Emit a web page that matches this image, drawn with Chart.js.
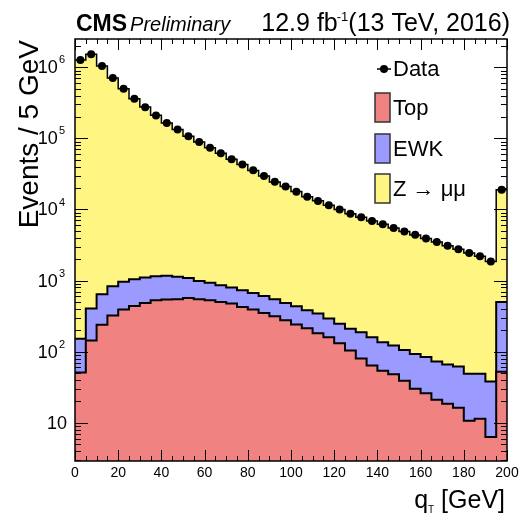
<!DOCTYPE html>
<html>
<head>
<meta charset="utf-8">
<script src="https://cdn.jsdelivr.net/npm/chart.js@4.4.1/dist/chart.umd.min.js"></script>
<style>
  html, body { margin: 0; padding: 0; background: #fff; }
  #wrap { width: 522px; height: 516px; }
</style>
</head>
<body>
<div id="wrap"><canvas id="chart"></canvas></div>
<script>
// q_T bins, 5 GeV wide, 0..200 GeV (left edges)
const binEdges = [0, 5, 10, 15, 20, 25, 30, 35, 40, 45, 50, 55, 60, 65, 70, 75, 80, 85, 90, 95,
                  100, 105, 110, 115, 120, 125, 130, 135, 140, 145, 150, 155, 160, 165, 170, 175, 180, 185, 190, 195];

// events per bin
const dataEvents = [1270000, 1520000, 1040000, 706000, 500000, 360000, 275000, 210000, 165000, 133000,
                    107000, 89000, 74000, 62000, 51000, 43000, 35500, 29500, 24500, 21000,
                    17800, 15100, 13200, 11500, 10000, 8700, 7800, 6900, 6200, 5500,
                    4900, 4400, 3900, 3500, 3100, 2750, 2450, 2200, 1850, 19000];

const topEvents = [51, 144, 240, 324, 391, 440, 484, 528, 541, 546,
                   570, 546, 528, 500, 475, 426, 391, 350, 314, 276,
                   242, 213, 181, 159, 131, 104, 80, 64, 54, 48,
                   39, 30, 26, 21, 18.5, 16.3, 10.7, 11.4, 6.3, 52];

const ewkEvents = [101, 260, 403, 510, 569, 607, 623, 626, 624, 582,
                   521, 444, 401, 361, 325, 306, 279, 258, 232, 208,
                   193, 169, 162, 135, 117, 107, 107, 95, 82, 74,
                   67, 63, 58, 52, 47.5, 45.7, 38.3, 37.6, 31.7, 448];

const zmumuEvents = [1270000, 1520000, 1040000, 706000, 500000, 360000, 275000, 210000, 164000, 132000,
                     106000, 88000, 73000, 61000, 50000, 42300, 34800, 28900, 23900, 20500,
                     17400, 14700, 12900, 11200, 9750, 8500, 7600, 6750, 6050, 5380,
                     4800, 4300, 3820, 3430, 3030, 2690, 2400, 2150, 1810, 18500];

const xTicks = [0, 20, 40, 60, 80, 100, 120, 140, 160, 180, 200];
const yDecades = [1, 2, 3, 4, 5, 6];

const BIN_W = 5;
const FONT = '"Liberation Sans", Arial, Helvetica, sans-serif';

// cumulative stack, drawn as step histograms
function stepPoints(values) {
    const pts = binEdges.map((x, i) => ({ x: x, y: values[i] }));
    pts.push({ x: binEdges[binEdges.length - 1] + BIN_W, y: values[values.length - 1] });
    return pts;
}
const stackTop = topEvents.slice();
const stackEwk = topEvents.map((v, i) => v + ewkEvents[i]);
const stackZ = stackEwk.map((v, i) => v + zmumuEvents[i]);

const colTop = '#F08282';
const colEwk = '#9B9BFF';
const colZ = '#FFF582';

// frame, ticks, labels, legend, titles
const decorations = {
    id: 'decorations',
    afterDraw(chart) {
        const ctx = chart.ctx;
        const a = chart.chartArea;
        const xs = chart.scales.x, ys = chart.scales.y;
        ctx.save();
        ctx.strokeStyle = '#000';
        ctx.fillStyle = '#000';

        // ticks
        ctx.lineWidth = 1;
        ctx.beginPath();
        for (let v = 0; v <= 200; v += 5) {
            const px = Math.round(xs.getPixelForValue(v)) + 0.5;
            const len = v % 20 === 0 ? 11 : 5;
            ctx.moveTo(px, a.bottom); ctx.lineTo(px, a.bottom - len);
            ctx.moveTo(px, a.top); ctx.lineTo(px, a.top + len);
        }
        for (let d = 0; d <= 6; d++) {
            for (let m = 1; m <= 9; m++) {
                const v = m * Math.pow(10, d);
                if (v < ys.min || v > ys.max) continue;
                const py = Math.round(ys.getPixelForValue(v)) + 0.5;
                const len = m === 1 ? 13 : 6;
                ctx.moveTo(a.left, py); ctx.lineTo(a.left + len, py);
                ctx.moveTo(a.right, py); ctx.lineTo(a.right - len, py);
            }
        }
        ctx.stroke();

        // frame
        ctx.lineWidth = 1.5;
        ctx.strokeRect(a.left, a.top, a.right - a.left, a.bottom - a.top);

        // x tick labels
        ctx.font = '14px ' + FONT;
        ctx.textAlign = 'center';
        ctx.textBaseline = 'top';
        xTicks.forEach(v => ctx.fillText(String(v), xs.getPixelForValue(v), a.bottom + 5));

        // y tick labels
        ctx.textBaseline = 'middle';
        yDecades.forEach(d => {
            const py = ys.getPixelForValue(Math.pow(10, d));
            if (d === 1) {
                ctx.font = '18px ' + FONT;
                ctx.textAlign = 'right';
                ctx.fillText('10', a.left - 8, py + 1);
            } else {
                ctx.font = '11px ' + FONT;
                ctx.textAlign = 'right';
                ctx.fillText(String(d), a.left - 10, py - 7);
                const ew = ctx.measureText(String(d)).width;
                ctx.font = '18px ' + FONT;
                ctx.fillText('10', a.left - 11 - ew, py + 1);
            }
        });

        // x axis title: q_T [GeV]
        ctx.textBaseline = 'alphabetic';
        ctx.textAlign = 'right';
        ctx.font = '25px ' + FONT;
        ctx.fillText('[GeV]', a.right - 2, 508);
        const gw = ctx.measureText(' [GeV]').width;
        ctx.font = '10px ' + FONT;
        ctx.fillText('T', a.right - 2 - gw, 513);
        const tw = ctx.measureText('T').width;
        ctx.font = '25px ' + FONT;
        ctx.fillText('q', a.right - 2 - gw - tw, 508);

        // y axis title
        ctx.save();
        ctx.translate(38, a.top + 1);
        ctx.rotate(-Math.PI / 2);
        ctx.textAlign = 'right';
        ctx.font = '28px ' + FONT;
        ctx.fillText('Events / 5 GeV', 0, 0);
        ctx.restore();

        // header
        ctx.textAlign = 'left';
        ctx.font = 'bold 23px ' + FONT;
        ctx.fillText('CMS', 76, 31);
        const cw = ctx.measureText('CMS').width;
        ctx.font = 'italic 20px ' + FONT;
        ctx.fillText('Preliminary', 76 + cw + 3, 31);
        ctx.textAlign = 'right';
        ctx.font = '25px ' + FONT;
        ctx.fillText('(13 TeV, 2016)', 510, 31);
        const rw = ctx.measureText('(13 TeV, 2016)').width;
        ctx.font = '13px ' + FONT;
        ctx.fillText('-1', 510 - rw, 21);
        const sw = ctx.measureText('-1').width;
        ctx.font = '25px ' + FONT;
        ctx.fillText('12.9 fb', 510 - rw - sw + 1, 31);

        // legend
        ctx.textAlign = 'left';
        ctx.textBaseline = 'middle';
        ctx.font = '22px ' + FONT;
        ctx.lineWidth = 1.5;
        ctx.beginPath();
        ctx.moveTo(377, 69); ctx.lineTo(391, 69);
        ctx.stroke();
        ctx.beginPath();
        ctx.arc(384, 69, 4, 0, Math.PI * 2);
        ctx.fill();
        ctx.fillText('Data', 393, 70);
        const boxes = [[colTop, 'Top', 93], [colEwk, 'EWK', 134], [colZ, 'Z \u2192 \u03bc\u03bc', 174]];
        boxes.forEach(([c, t, y]) => {
            ctx.fillStyle = c;
            ctx.fillRect(375, y, 15, 29);
            ctx.strokeStyle = '#333';
            ctx.strokeRect(375, y, 15, 29);
            ctx.fillStyle = '#000';
            ctx.fillText(t, 393, y + 16);
        });

        ctx.restore();
    }
};

new Chart(document.getElementById('chart'), {
    type: 'line',
    data: {
        datasets: [
            {
                label: 'Data',
                data: binEdges.map((x, i) => ({ x: x + BIN_W / 2, y: dataEvents[i] })),
                showLine: false,
                pointRadius: 4,
                pointBackgroundColor: '#000',
                pointBorderColor: '#000',
                pointBorderWidth: 0
            },
            {
                label: 'Top',
                data: stepPoints(stackTop),
                stepped: true,
                borderColor: '#000',
                borderWidth: 2,
                backgroundColor: colTop,
                fill: 'start',
                pointRadius: 0
            },
            {
                label: 'EWK',
                data: stepPoints(stackEwk),
                stepped: true,
                borderColor: '#000',
                borderWidth: 2,
                backgroundColor: colEwk,
                fill: 'start',
                pointRadius: 0
            },
            {
                label: 'Z \u2192 \u03bc\u03bc',
                data: stepPoints(stackZ),
                stepped: true,
                borderColor: '#000',
                borderWidth: 1.5,
                backgroundColor: colZ,
                fill: 'start',
                pointRadius: 0
            }
        ]
    },
    options: {
        responsive: true,
        maintainAspectRatio: false,
        animation: false,
        layout: {
            padding: { left: 75, right: 15, top: 39, bottom: 55 }
        },
        plugins: {
            legend: { display: false },
            tooltip: { enabled: false }
        },
        scales: {
            x: {
                type: 'linear',
                min: 0,
                max: 200,
                display: false
            },
            y: {
                type: 'logarithmic',
                min: 2.9,
                max: 2.5e6,
                display: false
            }
        }
    },
    plugins: [decorations]
});
</script>
</body>
</html>
